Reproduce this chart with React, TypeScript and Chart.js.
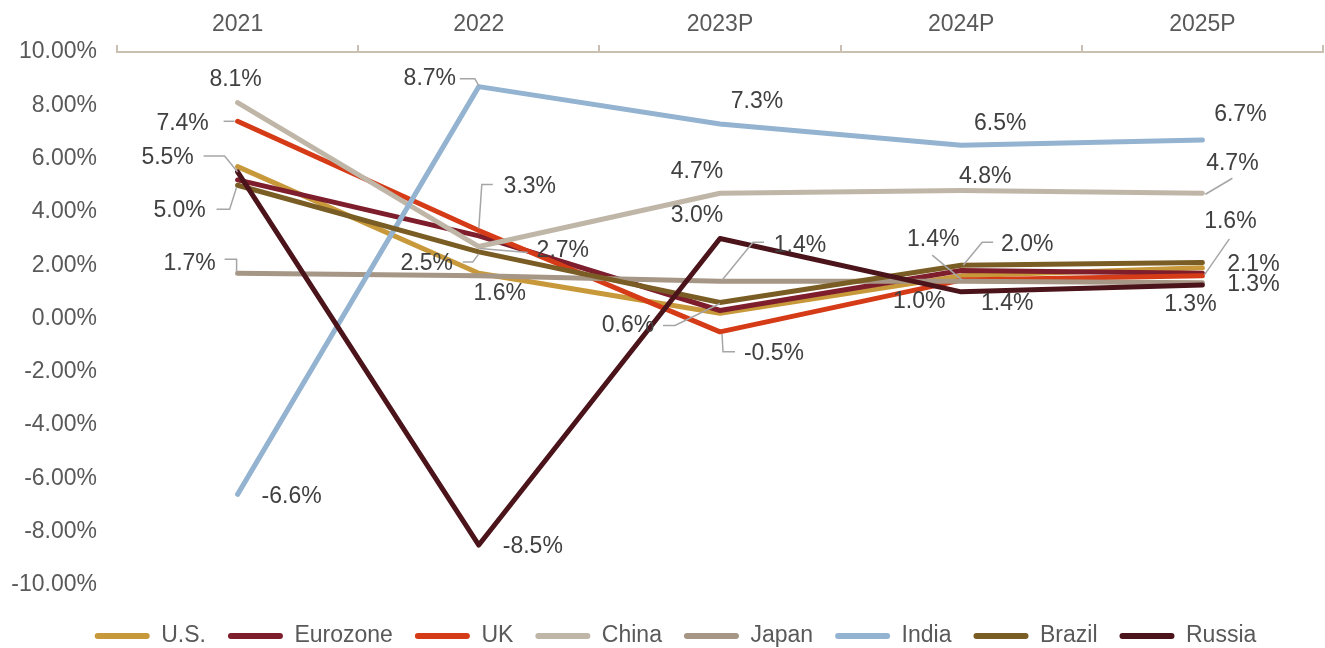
import React, { useEffect, useRef } from "react";
import { Chart, registerables } from "chart.js";

Chart.register(...registerables);

// ---- Data ----
const categories = ["2021", "2022", "2023P", "2024P", "2025P"];
const seriesNames = ["U.S.", "Eurozone", "UK", "China", "Japan", "India", "Brazil", "Russia"];
const usValues = [5.7, 1.7, 0.2, 1.6, 1.9];
const eurozoneValues = [5.2, 3.1, 0.3, 1.8, 1.7];
const ukValues = [7.4, 3.3, -0.5, 1.44, 1.6];
const chinaValues = [8.1, 2.7, 4.7, 4.8, 4.7];
const japanValues = [1.7, 1.6, 1.4, 1.4, 1.34];
const indiaValues = [-6.6, 8.7, 7.3, 6.5, 6.7];
const brazilValues = [5.0, 2.5, 0.6, 2.0, 2.1];
const russiaValues = [5.5, -8.5, 3.0, 1.0, 1.26];
const yMin = -10;
const yMax = 10;
const yStep = 2;

const seriesValues = [
  usValues,
  eurozoneValues,
  ukValues,
  chinaValues,
  japanValues,
  indiaValues,
  brazilValues,
  russiaValues,
];

// ---- Styles ----
const seriesColors = [
  "#C8993A",
  "#7E1E2C",
  "#D63B17",
  "#C0B6A8",
  "#A69685",
  "#93B3D1",
  "#7A5D24",
  "#4B141B",
];
const FONT = '"Liberation Sans", Arial, sans-serif';
const FONT_SIZE = 23;
const AXIS_COLOR = "#C9C0B1";
const TICK_COLOR = "#595959";
const LABEL_COLOR = "#404040";
const LEADER_COLOR = "#A6A6A6";

type LabelSpec = { dx: number; dy: number; leader?: number[][] } | null;

// label placement relative to each point (text centre offset + leader polyline)
const labelLayouts: (LabelSpec[] | null)[] = [
  null, // U.S.
  null, // Eurozone
  [
    { dx: -55, dy: 2, leader: [[-14, 0], [-3, 0]] },
    { dx: 51, dy: -44, leader: [[14, -46], [3, -46], [0, -2]] },
    { dx: 54, dy: 22, leader: [[2, 2], [3, 20], [15, 20]] },
    { dx: 46, dy: 24 },
    { dx: 28, dy: -54, leader: [[2, -1], [27, -37]] },
  ], // UK
  [
    { dx: -2, dy: -23 },
    { dx: 84, dy: 4, leader: [[1, 2], [49, 6]] },
    { dx: -23, dy: -22 },
    { dx: 24, dy: -14 },
    { dx: 30, dy: -30, leader: [[3, 1], [30, -15]] },
  ], // China
  [
    { dx: -48, dy: -10, leader: [[-13, -14], [-1, -14], [-1, -1]] },
    { dx: 21, dy: 18 },
    { dx: 80, dy: -36, leader: [[2, -1], [33, -39], [44, -39]] },
    { dx: -28, dy: -42, leader: [[-29, -26], [1, -1]] },
    { dx: 51, dy: 2 },
  ], // Japan
  [
    { dx: 54, dy: 2 },
    { dx: -49, dy: -8, leader: [[-19, -8], [-4, -8], [0, -1]] },
    { dx: 37, dy: -22 },
    { dx: 39, dy: -22 },
    { dx: 38, dy: -25 },
  ], // India
  [
    { dx: -58, dy: 25, leader: [[-21, 24], [-8, 24], [-1, 2]] },
    { dx: -52, dy: 12, leader: [[-16, 10], [-6, 10], [0, 2]] },
    { dx: -92, dy: 23, leader: [[-57, 23], [-45, 23], [0, 1]] },
    { dx: 66, dy: -21, leader: [[2, 0], [21, -23], [32, -23]] },
    { dx: 51, dy: 2 },
  ], // Brazil
  [
    { dx: -70, dy: -14, leader: [[-34, -16], [-13, -16], [0, 0]] },
    { dx: 54, dy: 2 },
    { dx: -23, dy: -23 },
    { dx: -42, dy: 10 },
    { dx: -12, dy: 20 },
  ], // Russia
];

const fmtLabel = (v: number) => v.toFixed(1) + "%";

const pointLabelPlugin = {
  id: "pointLabels",
  afterLayout(chart: any) {
    // let the y tick labels use the full left margin (avoid clipping)
    if (chart.scales.y) chart.scales.y.left = 0;
  },
  afterDatasetsDraw(chart: any) {
    const ctx = chart.ctx;
    ctx.save();
    chart.data.datasets.forEach((ds: any, di: number) => {
      const specs = labelLayouts[di];
      if (!specs) return;
      const meta = chart.getDatasetMeta(di);
      meta.data.forEach((pt: any, i: number) => {
        const spec = specs[i];
        if (!spec) return;
        const { x, y } = pt.getProps(["x", "y"], true);
        if (spec.leader) {
          ctx.beginPath();
          ctx.strokeStyle = LEADER_COLOR;
          ctx.lineWidth = 1.5;
          spec.leader.forEach(([lx, ly], k) => {
            if (k === 0) ctx.moveTo(x + lx, y + ly);
            else ctx.lineTo(x + lx, y + ly);
          });
          ctx.stroke();
        }
        ctx.fillStyle = LABEL_COLOR;
        ctx.font = `${FONT_SIZE}px ${FONT}`;
        ctx.textAlign = "center";
        ctx.textBaseline = "middle";
        ctx.fillText(fmtLabel(ds.data[i]), x + spec.dx, y + spec.dy);
      });
    });
    ctx.restore();
  },
};

export default function App() {
  const canvasRef = useRef<HTMLCanvasElement | null>(null);

  useEffect(() => {
    document.body.style.margin = "0";
    const canvas = canvasRef.current;
    if (!canvas) return;

    const datasets = seriesNames.map((name, i) => ({
      label: name,
      data: seriesValues[i],
      borderColor: seriesColors[i],
      backgroundColor: seriesColors[i],
      borderWidth: 5,
      pointRadius: 0,
      pointHoverRadius: 0,
      tension: 0,
      fill: false,
      borderJoinStyle: "round" as const,
      borderCapStyle: "round" as const,
      order: seriesNames.length - 1 - i,
    }));

    const chart = new Chart(canvas, {
      type: "line",
      data: { labels: categories, datasets },
      plugins: [pointLabelPlugin],
      options: {
        responsive: false,
        animation: false,
        devicePixelRatio: 1,
        layout: { padding: { left: 28, right: 2, top: 10, bottom: 0 } },
        font: { family: FONT, size: FONT_SIZE },
        plugins: {
          tooltip: { enabled: false },
          title: { display: false },
          legend: {
            display: true,
            position: "bottom",
            maxHeight: 45.5,
            labels: {
              boxWidth: 55,
              boxHeight: 6,
              padding: 22,
              color: TICK_COLOR,
              font: { family: FONT, size: FONT_SIZE },
              generateLabels: (ch: any) => {
                const items = (Chart as any).defaults.plugins.legend.labels.generateLabels(ch);
                return items
                  .sort((a: any, b: any) => a.datasetIndex - b.datasetIndex)
                  .map((it: any) => ({
                    ...it,
                    fillStyle: it.strokeStyle,
                    lineWidth: 0,
                    borderRadius: 3,
                  }));
              },
            },
          },
        },
        scales: {
          x: {
            type: "category",
            position: "top",
            offset: true,
            grid: {
              display: true,
              offset: true,
              drawOnChartArea: false,
              drawTicks: true,
              tickLength: 7,
              color: AXIS_COLOR,
              lineWidth: 2,
            },
            border: { display: true, color: AXIS_COLOR, width: 2 },
            ticks: {
              color: TICK_COLOR,
              font: { family: FONT, size: FONT_SIZE },
              padding: 7,
              maxRotation: 0,
              autoSkip: false,
            },
            afterFit: (scale: any) => {
              scale.height = 42;
            },
          },
          gap: {
            type: "category",
            position: "bottom",
            display: true,
            grid: { display: false, drawTicks: false },
            border: { display: false },
            ticks: { display: false },
            afterFit: (scale: any) => {
              scale.height = 17.5;
            },
          },
          y: {
            type: "linear",
            min: yMin,
            max: yMax,
            grid: { display: false, drawTicks: false },
            border: { display: false },
            ticks: {
              stepSize: yStep,
              color: TICK_COLOR,
              font: { family: FONT, size: FONT_SIZE },
              padding: 20,
              callback: (v: any) => Number(v).toFixed(2) + "%",
            },
            afterFit: (scale: any) => {
              scale.width = 89;
            },
          },
        },
      } as any,
    });

    return () => {
      chart.destroy();
    };
  }, []);

  return (
    <div style={{ width: 1325, height: 648, position: "relative" }}>
      <canvas ref={canvasRef} width={1325} height={648} style={{ display: "block" }} />
    </div>
  );
}
